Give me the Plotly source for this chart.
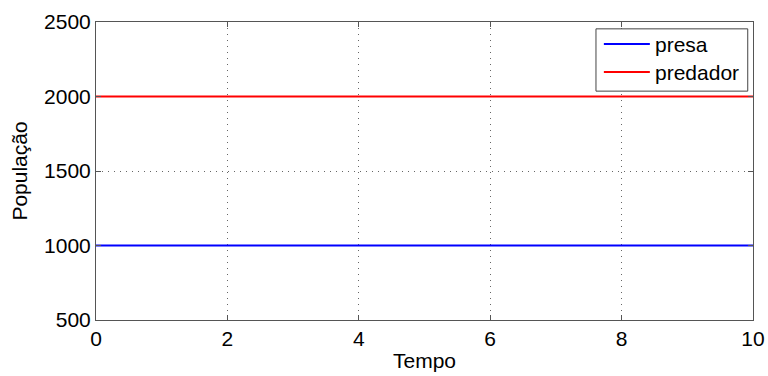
import plotly.graph_objects as go

# Populações em equilíbrio ao longo do tempo
tempo = [0, 2, 4, 6, 8, 10]
presa = [1000, 1000, 1000, 1000, 1000, 1000]
predador = [2000, 2000, 2000, 2000, 2000, 2000]

x_ticks = [0, 2, 4, 6, 8, 10]
y_ticks = [500, 1000, 1500, 2000, 2500]

font = "Liberation Sans, Arial, sans-serif"
fsize = 21

series = [("presa", presa, "#0000ff"), ("predador", predador, "#ff0000")]

fig = go.Figure()
for name, vals, color in series:
    fig.add_trace(go.Scatter(x=tempo, y=vals, mode="lines", name=name,
                             showlegend=False,
                             line=dict(color=color, width=2)))

axis_common = dict(
    showline=True, linecolor="#555", linewidth=1, mirror="ticks",
    ticks="inside", ticklen=5, tickcolor="#555",
    showgrid=True, gridcolor="#666", griddash="1px,5px", gridwidth=1,
    zeroline=False, automargin=False,
    tickfont=dict(family=font, size=fsize, color="#000"),
)

fig.update_xaxes(range=[0, 10], tickvals=x_ticks,
                 title=dict(text="Tempo", font=dict(family=font, size=fsize, color="#000"), standoff=4),
                 **axis_common)
fig.update_yaxes(range=[500, 2500], tickvals=y_ticks,
                 title=dict(text="População", font=dict(family=font, size=fsize, color="#000"), standoff=10),
                 **axis_common)

# Legend box drawn in plot-area (paper) coordinates
box_x0, box_x1, box_y0, box_y1 = 0.761, 0.992, 0.768, 0.977
fig.add_shape(type="rect", xref="paper", yref="paper",
              x0=box_x0, x1=box_x1, y0=box_y0, y1=box_y1,
              line=dict(color="#444", width=1), fillcolor="white", layer="above")
entry_y = [0.926, 0.832]
for (name, _, color), ey in zip(series, entry_y):
    fig.add_shape(type="line", xref="paper", yref="paper",
                  x0=0.773, x1=0.843, y0=ey, y1=ey,
                  line=dict(color=color, width=2), layer="above")
    fig.add_annotation(xref="paper", yref="paper", x=0.848, y=ey,
                       xanchor="left", yanchor="middle", showarrow=False,
                       text=name, font=dict(family=font, size=fsize, color="#000"))

fig.update_layout(
    width=768, height=376,
    margin=dict(l=96, r=15, t=22, b=56),
    plot_bgcolor="white", paper_bgcolor="white",
    font=dict(family=font, size=fsize, color="#000"),
    showlegend=False,
)

fig.write_html("out.html")
